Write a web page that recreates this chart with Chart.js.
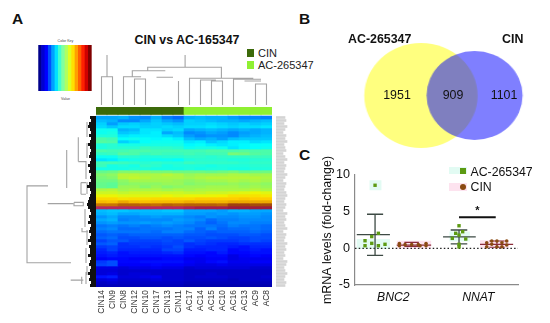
<!DOCTYPE html>
<html><head><meta charset="utf-8">
<style>
html,body{margin:0;padding:0;background:#fff;width:550px;height:323px;overflow:hidden}
canvas{position:absolute;display:block}
.t{position:absolute;font-family:"Liberation Sans",Arial,sans-serif;line-height:1;white-space:nowrap;color:#111}
.b{font-weight:bold}
.c{transform:translateX(-50%)}
.m{position:absolute}
</style>
<script src="https://cdn.jsdelivr.net/npm/chart.js@4"></script>
</head><body>
<div class="t b" style="left:12px;top:11px;font-size:15.5px">A</div>
<div class="t b" style="left:299px;top:11px;font-size:15.5px">B</div>
<div class="t b" style="left:299px;top:147px;font-size:15.5px">C</div>
<div class="t b c" style="left:187px;top:34px;font-size:12.4px">CIN vs AC-165347</div>
<div class="m" style="left:247px;top:49px;width:7px;height:8px;background:#3c6a0a"></div>
<div class="t" style="left:258px;top:48px;font-size:11px;color:#222">CIN</div>
<div class="m" style="left:247px;top:61px;width:7px;height:8px;background:#8ff032"></div>
<div class="t" style="left:258px;top:60px;font-size:11px;color:#222">AC-265347</div>
<div class="t c" style="left:65.5px;top:40px;font-size:3.6px;color:#444">Color Key</div>
<div class="t c" style="left:65.5px;top:98px;font-size:3.6px;color:#444">Value</div>
<canvas id="key" width="56" height="55" style="left:38px;top:45px"></canvas>
<canvas id="topD" width="176" height="55" style="left:96px;top:50px"></canvas>
<canvas id="leftD" width="70" height="171" style="left:26px;top:116px"></canvas>
<canvas id="heat" width="200" height="220" style="left:90px;top:100px"></canvas>
<canvas id="rowLab" width="12" height="171" style="left:276px;top:116px"></canvas>
<canvas id="venn" width="158" height="111" style="left:358px;top:40px;transform:scaleX(1.08);transform-origin:left top"></canvas>
<canvas id="dots" width="230" height="173" style="left:320px;top:150px"></canvas>
<div class="t b" style="left:348px;top:33px;font-size:12.4px">AC-265347</div>
<div class="t b" style="left:502px;top:33px;font-size:12.4px">CIN</div>
<div class="t c" style="left:397px;top:89px;font-size:12.4px">1951</div>
<div class="t c" style="left:453px;top:89px;font-size:12.4px">909</div>
<div class="t c" style="left:504px;top:89px;font-size:12.4px">1101</div>
<div class="m" style="left:449px;top:167px;width:18px;height:7px;background:#e2fbf3"></div>
<div class="m" style="left:449px;top:183px;width:18px;height:8px;background:#fde3ef"></div>
<div class="m" style="left:460px;top:168px;width:6px;height:6px;background:#5c9a12"></div>
<div class="m" style="left:460px;top:184px;width:6px;height:6px;border-radius:50%;background:#8a4a12"></div>
<div class="t" style="left:470.5px;top:165.5px;font-size:12.3px">AC-265347</div>
<div class="t" style="left:470.5px;top:180.5px;font-size:12.3px">CIN</div>
<div class="t b c" style="left:477.3px;top:205px;font-size:11px">*</div>
<script>
const sampleNames=["CIN14","CIN9","CIN8","CIN12","CIN10","CIN17","CIN13","CIN11","AC17","AC14","AC15","AC10","AC16","AC13","AC9","AC8"];
const groupColors=["#3c6a0a","#3c6a0a","#3c6a0a","#3c6a0a","#3c6a0a","#3c6a0a","#3c6a0a","#3c6a0a","#8ff032","#8ff032","#8ff032","#8ff032","#8ff032","#8ff032","#8ff032","#8ff032"];
const heatRows=[
[2.9,2.9,3.0,2.7,2.6,3.0,2.5,2.3,3.0,3.1,3.0,3.0,2.8,2.6,2.6,2.5],
[3.1,3.0,2.6,2.6,2.9,3.2,2.9,2.7,3.3,3.2,3.1,3.0,3.0,2.9,3.0,3.1],
[3.3,2.8,3.2,3.3,3.2,3.3,3.2,3.1,3.3,3.3,3.4,3.3,3.2,3.3,3.2,3.3],
[3.4,3.2,3.4,3.4,3.3,3.3,3.4,3.3,3.4,3.4,3.5,3.4,3.3,3.4,3.4,3.5],
[3.9,3.9,3.0,3.1,3.5,3.5,3.3,3.4,2.9,3.0,3.1,3.0,2.9,3.0,2.9,3.0],
[3.9,4.0,3.2,3.3,3.5,3.6,2.9,3.1,2.6,2.7,2.9,2.8,2.6,2.8,2.9,3.0],
[4.1,4.1,3.5,3.6,3.6,3.6,3.4,3.2,2.8,2.6,2.7,2.7,2.6,2.9,3.0,3.1],
[4.6,4.5,3.8,3.9,3.8,3.7,3.8,3.6,3.1,2.9,3.0,2.8,3.1,3.2,3.2,3.2],
[4.7,4.6,3.3,3.5,3.8,3.9,3.9,3.9,3.5,3.6,3.2,3.4,3.6,3.6,3.4,3.5],
[4.1,4.2,4.0,4.0,4.0,4.0,4.0,4.0,3.7,3.8,3.6,3.5,3.6,3.7,3.8,3.8],
[4.1,4.2,4.2,4.2,4.4,4.3,4.3,4.2,3.9,4.0,4.0,3.9,3.5,3.7,3.8,3.9],
[4.6,4.5,4.5,4.6,4.6,4.5,4.5,4.5,4.5,4.5,4.6,4.6,4.6,4.7,4.6,4.6],
[4.3,4.4,4.7,4.6,4.4,4.5,4.4,4.4,4.5,4.4,4.5,4.5,5.1,5.0,4.7,4.6],
[3.9,3.9,4.2,4.2,4.1,4.1,4.2,4.2,4.3,4.3,4.2,4.3,4.3,4.3,4.4,4.4],
[3.5,3.6,3.9,4.0,4.0,3.9,3.9,3.8,4.1,4.2,4.2,4.2,4.1,4.1,4.2,4.2],
[4.5,4.5,4.4,4.3,4.2,4.3,4.2,4.2,4.4,4.3,4.3,4.3,4.3,4.2,4.3,4.3],
[4.4,4.0,4.1,4.0,4.3,4.2,4.0,4.1,4.1,4.1,4.0,4.1,4.1,4.1,4.2,4.2],
[4.0,4.0,4.0,4.1,4.1,4.0,4.0,4.0,4.1,4.0,4.1,4.1,4.0,4.0,4.1,4.1],
[4.9,5.0,5.2,5.2,5.2,5.1,5.1,5.0,5.0,5.0,4.9,5.0,5.1,4.9,5.0,5.0],
[5.2,5.3,5.7,5.7,5.6,5.6,5.7,5.6,5.4,5.5,5.5,5.5,5.6,5.6,5.5,5.5],
[5.1,5.2,5.7,5.8,5.7,5.6,5.6,5.6,5.5,5.6,5.7,5.7,5.7,5.7,5.7,5.6],
[5.0,5.0,5.3,5.5,5.5,5.5,5.5,5.4,5.3,5.4,5.5,5.5,5.6,5.5,5.6,5.5],
[4.9,4.8,5.2,5.3,5.3,5.3,5.4,5.4,5.2,5.3,5.3,5.3,5.4,5.3,5.4,5.3],
[4.9,4.8,5.4,5.4,5.2,5.4,5.2,5.3,5.4,5.4,5.5,5.5,5.5,5.4,5.5,5.4],
[5.6,5.7,5.5,5.6,5.6,5.6,5.5,5.6,5.5,5.6,5.6,5.6,5.6,5.6,5.7,5.6],
[5.9,5.9,5.8,5.9,5.9,5.9,5.9,5.9,5.8,5.8,5.9,5.9,6.0,6.1,6.2,6.1],
[6.2,6.2,6.1,6.1,6.1,6.1,6.2,6.1,6.2,6.2,6.2,6.3,6.6,6.6,6.6,6.5],
[6.8,6.8,6.6,6.7,6.7,6.8,6.8,6.8,6.8,7.0,7.0,7.0,7.0,7.1,7.0,7.0],
[7.3,7.2,7.6,7.3,7.2,7.3,7.3,7.3,7.5,7.4,7.4,7.4,7.6,7.6,7.6,7.6],
[8.4,8.4,8.7,8.7,8.6,8.5,8.7,8.6,8.7,8.7,8.7,8.6,9.2,9.2,9.0,9.0],
[10.5,10.5,10.5,10.5,10.5,10.5,10.5,10.5,10.4,10.3,10.3,10.3,10.2,10.2,10.2,10.2],
[3.1,3.2,3.2,3.1,3.1,3.1,3.2,3.2,2.9,2.9,2.9,2.8,3.0,3.0,2.9,2.9],
[3.0,3.1,2.9,2.9,3.0,3.0,3.0,3.0,2.8,2.8,2.7,2.8,2.7,2.8,2.8,2.7],
[2.7,2.9,2.6,2.6,2.7,2.8,2.7,2.7,2.6,2.5,2.7,2.6,2.6,2.7,2.7,2.6],
[2.9,3.0,2.5,2.6,2.6,2.6,2.6,2.8,2.7,2.6,2.3,2.5,2.5,2.6,2.6,2.6],
[2.7,2.8,2.7,2.7,2.8,2.7,2.8,2.7,2.6,2.4,2.2,2.4,2.6,2.6,2.5,2.5],
[2.4,2.5,2.4,2.5,2.4,2.5,2.6,2.5,2.4,2.4,2.4,2.3,2.5,2.4,2.4,2.3],
[2.5,2.6,2.3,2.3,2.4,2.4,2.4,2.5,2.5,2.2,2.5,2.2,2.3,2.3,2.4,2.3],
[2.3,2.4,2.4,2.4,2.4,2.3,2.5,2.5,2.3,2.2,2.1,2.2,2.2,2.2,2.3,2.2],
[2.1,2.2,2.1,2.2,2.2,2.2,2.2,2.2,2.1,2.1,2.0,2.0,2.0,2.1,2.1,2.0],
[2.2,2.3,2.0,2.0,2.1,2.1,2.0,2.1,2.0,2.0,2.1,2.0,1.9,1.9,2.0,2.0],
[1.9,2.1,2.1,1.9,1.9,1.9,2.0,1.9,2.1,1.9,1.8,1.8,1.8,1.9,2.0,1.9],
[2.1,2.2,1.7,1.8,1.8,1.8,1.9,1.9,1.7,1.8,1.7,1.6,1.6,1.7,1.7,1.7],
[1.8,1.9,1.7,1.7,1.8,1.7,1.8,2.0,1.7,1.6,1.6,1.6,1.5,1.4,1.6,1.6],
[1.6,1.9,1.6,1.6,1.6,1.6,1.9,1.9,1.5,1.5,1.6,1.6,1.3,1.4,1.5,1.4],
[1.5,1.6,1.4,1.5,1.5,1.5,1.6,1.7,1.4,1.4,1.3,1.5,1.3,1.3,1.4,1.4],
[1.4,1.5,1.4,1.4,1.4,1.4,1.4,1.4,1.3,1.2,1.3,1.3,1.0,1.2,1.3,1.2],
[1.2,1.3,1.3,1.2,1.2,1.2,1.3,1.3,1.1,1.1,1.2,1.2,1.0,1.1,1.1,1.1],
[1.8,2.0,1.3,1.3,1.4,1.4,1.4,1.4,1.2,1.1,1.3,1.4,1.1,1.1,1.2,1.2],
[1.9,2.0,1.2,1.2,1.2,1.3,1.2,1.2,1.1,1.0,1.0,1.1,1.0,1.0,1.0,1.0],
[1.0,1.0,0.9,1.0,1.0,1.1,1.0,1.0,0.8,0.9,0.9,0.9,0.9,0.9,0.8,0.8],
[0.9,0.9,0.8,0.8,0.8,0.8,0.8,0.8,0.7,0.7,0.7,0.7,0.7,0.7,0.7,0.7],
[0.9,1.0,0.8,0.9,0.9,0.8,0.8,0.8,0.7,0.7,0.8,0.7,0.7,0.7,0.7,0.7],
[1.4,1.5,0.9,0.9,1.0,1.1,0.8,0.8,0.7,0.8,0.8,0.8,0.7,0.7,0.7,0.8],
[0.9,1.0,0.8,0.8,0.8,0.9,0.8,0.8,0.7,0.7,0.7,0.7,0.6,0.7,0.7,0.7],
[0.7,0.8,0.7,0.7,0.7,0.7,0.7,0.7,0.6,0.6,0.6,0.6,0.6,0.6,0.6,0.6],
[0.6,0.6,0.6,0.6,0.6,0.6,0.6,0.6,0.5,0.5,0.5,0.5,0.5,0.5,0.5,0.5]];
const heatStops=[[0,0,0,120],[1.25,0,0,255],[3.75,0,255,255],[5,110,250,130],[6.25,240,245,0],[7,255,205,0],[8,225,145,0],[9,165,75,10],[10,140,20,40],[11,225,60,150]];
const keyBands=["#00008b","#0000d0","#0000ff","#0050ff","#00a0ff","#00e0ff","#40ffd0","#80ffa0","#b0ff60","#e0ff20","#ffe000","#ffa000","#ff6000","#ff2000","#d00000","#800000"];
const keyTicks=["","0","","","2","","","4","","6","","","8","","","10"];
const topDendroX=[.5,.5,1.5,1.5,null,1,1,null,2.5,2.5,4.1,null,3.5,3.5,4.5,4.5,null,3.3,3.3,6.3,null,5.5,7,null,7.5,7.5,null,4.7,4.7,11.4,11.4,null,8.1,8.1,null,8.5,8.5,14.3,null,9.5,9.5,10.9,null,10.5,10.5,11.5,11.5,null,12.5,12.5,15,null,13.5,15,null,14.5,14.5,15.5,15.5];
const topDendroH=[0,28.3,28.3,0,null,28.3,50,null,0,28.3,28.3,null,0,26,26,0,null,28.3,34.3,34.3,null,27.7,27.7,null,0,24,null,34.3,37.7,37.7,26.7,null,37.7,50,null,0,26.7,26.7,null,0,25,25,null,0,24,24,0,null,0,25.7,25.7,null,24,24,null,0,21,21,0];
const leftDendroD=[48,69,69,25,null,48.3,22.7,null,29.3,29.3,null,17.7,17.7,null,17.7,10,null,15,15,null,15,10,null,15,10,null,22,22,12.7,12.7,22,null,25.3,12.7,null,14.3,14.3,null,14,14,8,null,9,9,null,9,9,null,10,10,null,9,9,null,11,11,null,9,9,null,10,10,null,9,9,null,10,10];
const leftDendroR=[23.3,23.3,48.9,48.9,null,29.2,29.2,null,11.3,24,null,7.1,15.2,null,15.2,15.2,null,22.2,26.1,null,22.2,22.2,null,26.1,26.1,null,28.8,29.9,29.9,28.8,28.8,null,54.7,54.7,null,53.6,56,null,37.3,38.6,38.6,null,2,7,null,9,14,null,15,21,null,22,26,null,31,37,null,38,43,null,44,49,null,50,53,null,52,56];
const leafDepths=[6,5,7,8,6,5,7,5,6,8,6,5,6,7,5,6,8,6,7,5,6,5,7,9,6,5,6,7,8,9,8,6,5,7,6,8,5,6,7,5,6,8,5,7,6,6,8,5,6,7,5,6,8,6,7,5,6];
const rowLabelLengths=[9,10,8,11,9,7,10,9,11,8,9,10,7,9,11,8,10,9,8,11,9,7,10,9,8,10,11,9,8,10,9,7,11,9,10,8,9,11,7,10,9,8,11,9,10,8,9,7,11,10,8,9,11,9,8,10,9];
const vennNames=["CIN","AC-265347"];
const vennX=[107.9,58.3];
const vennY=[55.5,55.5];
const vennR=[44.5,52.5];
const vennColors=["rgba(0,0,255,.5)","rgba(255,255,0,.5)"];
const geneNames=["BNC2","NNAT"];
const acBnc2X=[.785,.824,.746,.667,.746,.667,.824,.902];
const acBnc2Y=[8.6,2.05,1.6,1.04,.68,.36,.36,.55];
const acNnatX=[1.773,1.734,1.816,1.694,1.773,1.852,1.773,1.773];
const acNnatY=[3.08,2.05,2.27,1.36,1.8,1.27,.55,.2];
const cinBnc2X=[1.071,1.071,1.138,1.216,1.294,1.314,1.385,1.385];
const cinBnc2Y=[.65,.35,.5,.5,.5,.35,.65,.35];
const cinNnatX=[2.099,2.099,2.158,2.158,2.219,2.219,2.278,2.278,2.334,2.334];
const cinNnatY=[.75,.2,1.0,.55,.2,1.0,.75,.2,1.0,.45];
const errX=[.57,.96,null,.69,.88,null,.785,.785,null,.69,.88,null,1.585,1.97,null,1.675,1.87,null,1.773,1.773,null,1.675,1.87];
const errY=[1.86,1.86,null,4.65,4.65,null,4.65,-.95,null,-.95,-.95,null,1.55,1.55,null,2.5,2.5,null,2.5,.6,null,.6,.6];
const cinErrX=[1.04,1.445,null,1.13,1.3,null,1.215,1.215,null,1.13,1.3,null,2.02,2.41,null,2.13,2.31,null,2.219,2.219,null,2.13,2.31];
const cinErrY=[.45,.45,null,.25,.25,null,.25,.8,null,.8,.8,null,.55,.55,null,.15,.15,null,.15,1,null,1,1];
const sigX=[1.773,2.205];
const sigY=[4.23,4.23];
const zeroX=[.549,2.467];
const zeroY=[0,0];
const acHaloX=[.57,.96,null,.72,.86,null,1.66,1.9];
const acHaloY=[.6,.6,null,8.6,8.6,null,1.6,1.6];
const cinHaloX=[1.04,1.445,null,2.02,2.36];
const cinHaloY=[.5,.5,null,.55,.55];

Chart.defaults.animation=false;
Chart.defaults.responsive=false;
Chart.defaults.devicePixelRatio=1;
Chart.defaults.layout.autoPadding=false;
Chart.defaults.font.family='"Liberation Sans",Arial,sans-serif';
const quiet={legend:{display:false},tooltip:{enabled:false},title:{display:false}};
function heatColor(v){
  for(let i=1;i<heatStops.length;i++){
    if(v<=heatStops[i][0]){
      const a=heatStops[i-1],b=heatStops[i],t=(v-a[0])/(b[0]-a[0]);
      return `rgb(${Math.round(a[1]+t*(b[1]-a[1]))},${Math.round(a[2]+t*(b[2]-a[2]))},${Math.round(a[3]+t*(b[3]-a[3]))})`;
    }
  }
  return "#000";
}
function pts(xs,ys){return xs.map((x,i)=>x===null?{x:null,y:null}:{x,y:ys[i]});}
function ln(xs,ys,color,width,extra){return Object.assign({type:"scatter",showLine:true,data:pts(xs,ys),borderColor:color,backgroundColor:color,borderWidth:width,pointRadius:0,spanGaps:false,tension:0,clip:false},extra||{});}

new Chart(document.getElementById("key"),{type:"bar",
 data:{labels:keyTicks,datasets:[{data:keyBands.map(()=>1),backgroundColor:keyBands,barPercentage:1,categoryPercentage:1}]},
 options:{plugins:quiet,layout:{padding:0},scales:{
  x:{grid:{display:false},border:{display:false},afterFit(s){s.height=9;},ticks:{autoSkip:false,maxRotation:0,minRotation:0,padding:2,color:"#666",font:{size:3.6}}},
  y:{display:false,min:0,max:1}}}});

new Chart(document.getElementById("topD"),{type:"scatter",
 data:{datasets:[ln(topDendroX,topDendroH,"#a3a3a3",1.1)]},
 options:{plugins:quiet,layout:{padding:0},scales:{x:{display:false,min:0,max:16},y:{display:false,min:0,max:55}}}});

const leafD=[],leafR=[];
leafDepths.forEach((d,i)=>{leafD.push(0,d,null);leafR.push(i+.5,i+.5,null);});
new Chart(document.getElementById("leftD"),{type:"scatter",
 data:{datasets:[ln(leafD,leafR,"#111",2.8),ln(leftDendroD,leftDendroR,"#a3a3a3",1.1)]},
 options:{plugins:quiet,layout:{padding:0},scales:{x:{display:false,reverse:true,min:0,max:70},y:{display:false,reverse:true,min:0,max:57}}}});

const heatSets=heatRows.map((row,i)=>({data:row.map(()=>[i,i+1]),backgroundColor:row.map(heatColor),barPercentage:1,categoryPercentage:1,borderWidth:0}));
heatSets.push({data:sampleNames.map(()=>[-3,-.5]),backgroundColor:groupColors,barPercentage:1,categoryPercentage:1,borderWidth:0});
new Chart(document.getElementById("heat"),{type:"bar",
 data:{labels:sampleNames,datasets:heatSets},
 options:{plugins:quiet,layout:{padding:{left:6,right:18,top:7,bottom:0}},scales:{
  x:{stacked:true,grid:{display:false,drawTicks:false},border:{display:false},afterFit(s){s.height=33;},
     ticks:{autoSkip:false,minRotation:90,maxRotation:90,padding:3,color:"#333",font:{size:8.4}}},
  y:{display:false,stacked:false,reverse:true,min:-3,max:57}}}});

new Chart(document.getElementById("rowLab"),{type:"bar",
 data:{labels:rowLabelLengths.map((_,i)=>i),datasets:[{data:rowLabelLengths,backgroundColor:"#d4d4d4",barThickness:2}]},
 options:{indexAxis:"y",plugins:quiet,layout:{padding:0},scales:{x:{display:false,min:0,max:12},y:{display:false}}}});

new Chart(document.getElementById("venn"),{type:"scatter",
 data:{labels:vennNames,datasets:vennNames.map((n,i)=>({label:n,data:[{x:vennX[i],y:vennY[i]}],pointStyle:"circle",pointRadius:vennR[i],backgroundColor:vennColors[i],borderWidth:0,pointBorderWidth:0,clip:false}))},
 options:{plugins:quiet,layout:{padding:0,autoPadding:false},scales:{x:{display:false,min:0,max:158},y:{display:false,min:0,max:111}}}});

const axisGray="#8a8a8a";
new Chart(document.getElementById("dots"),{type:"scatter",
 data:{datasets:[
  {data:pts(acBnc2X,acBnc2Y),pointStyle:"rect",pointRadius:2.4,backgroundColor:"#5c9a12",borderWidth:0},
  {data:pts(acNnatX,acNnatY),pointStyle:"rect",pointRadius:2.4,backgroundColor:"#5c9a12",borderWidth:0},
  {data:pts(cinBnc2X,cinBnc2Y),pointStyle:"circle",pointRadius:1.8,backgroundColor:"#8a4a12",borderWidth:0},
  {data:pts(cinNnatX,cinNnatY),pointStyle:"circle",pointRadius:1.8,backgroundColor:"#8a4a12",borderWidth:0},
  ln(sigX,sigY,"#111",2),
  ln(cinErrX,cinErrY,"#8a2c3a",1.2),
  ln(errX,errY,"#3d4a44",1.3),
  ln(zeroX,zeroY,"#222",1.2,{borderDash:[1.5,2.2]}),
  ln(cinHaloX,cinHaloY,"#fde3ef",8),
  ln(acHaloX,acHaloY,"#e2fbf3",10)
 ]},
 options:{plugins:quiet,layout:{padding:{top:25,right:32,left:0,bottom:0}},scales:{
  x:{type:"linear",min:.549,max:2.467,grid:{display:false,tickColor:axisGray,tickLength:4,tickWidth:1.2},border:{color:axisGray,width:1.2},
     afterBuildTicks(s){s.ticks=[{value:1},{value:2}];},afterFit(s){s.height=38;},
     ticks:{padding:1,color:"#111",font:{size:12.2,style:"italic"},callback(v){return geneNames[v-1];}}},
  y:{type:"linear",min:-5,max:10,grid:{display:false,tickColor:axisGray,tickLength:4,tickWidth:1.2},border:{color:axisGray,width:1.2},
     afterFit(s){s.width=35;},
     title:{display:true,text:"mRNA levels (fold-change)",color:"#111",font:{size:12.4},padding:0},
     ticks:{stepSize:5,padding:1,color:"#111",font:{size:12.6}}}}}});
</script>
</body></html>
